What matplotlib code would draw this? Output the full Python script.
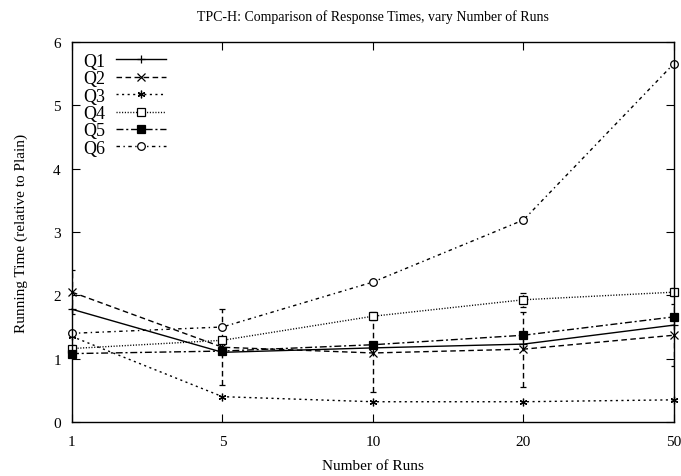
import numpy as np
import matplotlib
matplotlib.use("Agg")
import matplotlib.pyplot as plt
from matplotlib.lines import Line2D

plt.rcParams['font.family'] = ['Liberation Serif', 'DejaVu Serif']

runs = ["1", "5", "10", "20", "50"]
q1 = [1.78, 1.10, 1.17, 1.23, 1.53]
q2 = [2.05, 1.18, 1.09, 1.15, 1.37]
q2_err = [0.35, 0.60, 0.62, 0.59, 0.49]
q3 = [1.35, 0.40, 0.32, 0.32, 0.35]
q4 = [1.16, 1.29, 1.67, 1.93, 2.05]
q4_err = [0.05, 0.05, 0.06, 0.11, 0.06]
q5 = [1.08, 1.12, 1.22, 1.37, 1.66]
q6 = [1.40, 1.50, 2.21, 3.19, 5.66]

x = np.arange(len(runs))

fig = plt.figure(figsize=(6.81, 4.77), dpi=100)
ax = fig.add_axes([0.1057, 0.1132, 0.884, 0.7967])

styles = [
    ("Q1", q1, None, "-", "+", "black"),
    ("Q2", q2, q2_err, (0, (4, 2.5)), "x", "black"),
    ("Q3", q3, None, (0, (1.5, 2.5)), (6, 2, 0), "black"),
    ("Q4", q4, q4_err, (0, (0.8, 1.2)), "s", "white"),
    ("Q5", q5, None, (0, (5, 2, 1.5, 2)), "s", "black"),
    ("Q6", q6, None, (0, (2.5, 2.5, 1, 2.5)), "o", "white"),
]

handles = []
for name, vals, err, ls, mk, face in styles:
    c = ax.errorbar(x, vals, yerr=err, color="black", linestyle=ls, linewidth=1.0,
                    marker=mk, markersize=5.5, markerfacecolor=face,
                    markeredgecolor="black", markeredgewidth=0.9,
                    ecolor="black", elinewidth=1.0, capsize=2)
    c.lines[0].set_clip_on(False)
    for lc in c.lines[2]:
        lc.set_linestyle(ls)
    handles.append(Line2D([], [], color="black", linestyle=ls, linewidth=1.0,
                          marker=mk, markersize=5.5, markerfacecolor=face,
                          markeredgecolor="black", markeredgewidth=0.9, label=name))

ax.set_xlim(0, 4)
ax.set_ylim(0, 6)
ax.set_xticks(x)
ax.set_xticklabels(runs)
ax.set_yticks(range(0, 7))
ax.tick_params(direction="in", length=6, top=True, right=True, labelsize=11)
ax.tick_params(axis="x", pad=9)
ax.tick_params(axis="y", pad=8)
for s in ax.spines.values():
    s.set_linewidth(1.0)

ax.set_xlabel("Number of Runs", fontsize=11, labelpad=8)
ax.set_ylabel("Running Time (relative to Plain)", fontsize=11, labelpad=18)
ax.set_title("TPC-H: Comparison of Response Times, vary Number of Runs", fontsize=10, pad=16)

ax.legend(handles=handles, loc="upper left", frameon=False, fontsize=13,
          handlelength=2.8, handletextpad=0.6, labelspacing=0.02,
          borderaxespad=0.3, borderpad=0.3, markerfirst=False)

fig.savefig("out.png", dpi=100)
